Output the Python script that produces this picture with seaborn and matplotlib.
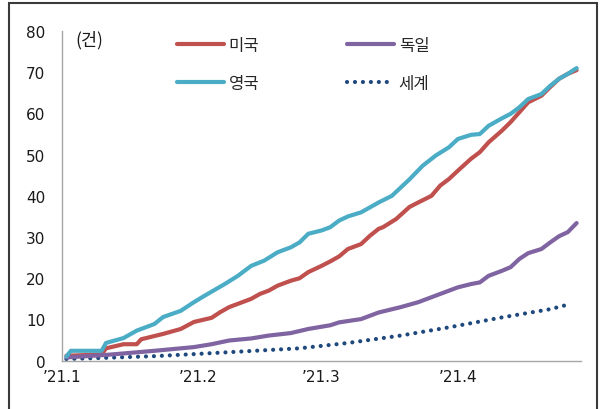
import matplotlib
matplotlib.use("Agg")
import matplotlib.pyplot as plt
from matplotlib.patches import Rectangle
import pandas as pd
import seaborn as sns

# ---- data ----
us_dates = ["2021-01-02", "2021-01-10", "2021-01-11", "2021-01-15", "2021-01-18", "2021-01-19",
            "2021-01-24", "2021-01-28", "2021-01-31", "2021-02-04", "2021-02-06", "2021-02-08",
            "2021-02-10", "2021-02-13", "2021-02-15", "2021-02-17", "2021-02-19", "2021-02-22",
            "2021-02-24", "2021-02-26", "2021-03-01", "2021-03-03", "2021-03-05", "2021-03-07",
            "2021-03-10", "2021-03-12", "2021-03-14", "2021-03-15", "2021-03-18", "2021-03-21",
            "2021-03-23", "2021-03-26", "2021-03-28", "2021-03-30", "2021-04-01", "2021-04-04",
            "2021-04-06", "2021-04-08", "2021-04-11", "2021-04-13", "2021-04-15", "2021-04-17",
            "2021-04-20", "2021-04-22", "2021-04-24", "2021-04-26", "2021-04-28"]
us_vals = [1.2, 1.5, 3.0, 4.0, 4.0, 5.2, 6.5, 7.7, 9.4, 10.4, 11.8, 13.0,
           13.8, 15.0, 16.2, 17.0, 18.2, 19.4, 20.0, 21.5, 23.0, 24.1, 25.3, 27.1,
           28.3, 30.3, 32.0, 32.4, 34.4, 37.3, 38.4, 40.0, 42.5, 44.1, 46.1, 49.0,
           50.6, 53.0, 55.8, 57.9, 60.3, 62.7, 64.3, 66.4, 68.4, 69.6, 70.5]

uk_dates = ["2021-01-02", "2021-01-03", "2021-01-10", "2021-01-11", "2021-01-15", "2021-01-18",
            "2021-01-22", "2021-01-24", "2021-01-28", "2021-01-31", "2021-02-02", "2021-02-07",
            "2021-02-10", "2021-02-13", "2021-02-16", "2021-02-19", "2021-02-22", "2021-02-24",
            "2021-02-26", "2021-03-01", "2021-03-03", "2021-03-05", "2021-03-07", "2021-03-10",
            "2021-03-14", "2021-03-17", "2021-03-21", "2021-03-24", "2021-03-27", "2021-03-30",
            "2021-04-01", "2021-04-04", "2021-04-06", "2021-04-08", "2021-04-11", "2021-04-13",
            "2021-04-15", "2021-04-17", "2021-04-20", "2021-04-22", "2021-04-24", "2021-04-26",
            "2021-04-28"]
uk_vals = [1.0, 2.4, 2.4, 4.3, 5.5, 7.3, 8.9, 10.6, 12.1, 14.2, 15.5, 18.6,
           20.6, 23.0, 24.3, 26.3, 27.5, 28.7, 30.8, 31.6, 32.4, 34.0, 35.0, 36.0,
           38.4, 40.0, 44.0, 47.3, 49.8, 51.8, 53.8, 54.8, 55.0, 57.0, 58.8, 59.9,
           61.5, 63.5, 64.7, 66.7, 68.4, 69.6, 71.0]

de_dates = ["2021-01-02", "2021-01-11", "2021-01-22", "2021-01-31", "2021-02-04", "2021-02-08",
            "2021-02-13", "2021-02-17", "2021-02-22", "2021-02-26", "2021-03-03", "2021-03-05",
            "2021-03-10", "2021-03-14", "2021-03-19", "2021-03-23", "2021-03-28", "2021-04-01",
            "2021-04-04", "2021-04-06", "2021-04-08", "2021-04-11", "2021-04-13", "2021-04-15",
            "2021-04-17", "2021-04-20", "2021-04-22", "2021-04-24", "2021-04-26", "2021-04-28"]
de_vals = [0.8, 1.4, 2.4, 3.3, 4.0, 4.9, 5.4, 6.1, 6.7, 7.7, 8.6, 9.3,
           10.1, 11.7, 13.0, 14.2, 16.2, 17.8, 18.6, 19.0, 20.6, 21.8, 22.7, 24.7,
           26.1, 27.1, 28.7, 30.2, 31.2, 33.4]

world_dates = ["2021-01-02", "2021-01-11", "2021-01-22", "2021-01-31", "2021-02-24", "2021-03-07",
               "2021-03-19", "2021-03-30", "2021-04-11", "2021-04-22", "2021-04-26"]
world_vals = [0.4, 0.7, 1.1, 1.6, 3.0, 4.3, 6.1, 8.1, 10.5, 12.5, 13.6]

series_names = ["미국", "독일", "영국", "세계"]
colors = ["#C0504D", "#8064A2", "#4BACC6", "#1F497D"]
x_ticks = ["2021-01-01", "2021-02-01", "2021-03-01", "2021-04-01"]
x_ticklabels = ["’21.1", "’21.2", "’21.3", "’21.4"]
y_ticks = [0, 10, 20, 30, 40, 50, 60, 70, 80]
unit_label = "(건)"

# ---- style ----
sns.set_theme(style="white")
plt.rcParams['font.family'] = ['Noto Sans CJK KR', 'DejaVu Sans']

fig = plt.figure(figsize=(6.02, 4.10), dpi=100)
ax = fig.add_axes([62 / 602, 1 - 361.7 / 410, (581 - 62) / 602, (361.7 - 32) / 410])

frames = [
    pd.DataFrame({"date": pd.to_datetime(us_dates), "v": us_vals}),
    pd.DataFrame({"date": pd.to_datetime(de_dates), "v": de_vals}),
    pd.DataFrame({"date": pd.to_datetime(uk_dates), "v": uk_vals}),
    pd.DataFrame({"date": pd.to_datetime(world_dates), "v": world_vals}),
]

for df, name, c in zip(frames, series_names, colors):
    if name == "세계":
        sns.lineplot(data=df, x="date", y="v", ax=ax, color=c, lw=3.0,
                     linestyle=(0, (0.01, 1.9)), dash_capstyle="round", label=name, zorder=2)
    else:
        sns.lineplot(data=df, x="date", y="v", ax=ax, color=c, lw=3.0,
                     solid_capstyle="round", solid_joinstyle="round", label=name,
                     zorder=4 if name == "영국" else 3)

ax.set_xlim(pd.Timestamp("2021-01-01"), pd.Timestamp("2021-04-29"))
ax.set_ylim(0, 80)
ax.set_xticks(pd.to_datetime(x_ticks))
ax.set_xticklabels(x_ticklabels)
ax.set_yticks(y_ticks)
ax.set_xlabel("")
ax.set_ylabel("")

for s in ["top", "right"]:
    ax.spines[s].set_visible(False)
for s in ["left", "bottom"]:
    ax.spines[s].set_color("#A6A6A6")
    ax.spines[s].set_linewidth(1.0)
ax.tick_params(axis="both", which="both", direction="out", length=4, width=1.0,
               color="#A6A6A6", labelsize=11, labelcolor="#1a1a1a")
ax.tick_params(axis="y", pad=8)
ax.tick_params(axis="x", pad=2)
for lab in ax.get_xticklabels() + ax.get_yticklabels():
    lab.set_fontfamily("DejaVu Sans")
ax.grid(False)

ax.text(0.025, 0.976, unit_label, transform=ax.transAxes, fontsize=12.5,
        ha="left", va="center", color="#1a1a1a")

# legend: rows 미국/독일 and 영국/세계
handles, labels = ax.get_legend_handles_labels()
hmap = dict(zip(labels, handles))
order = ["미국", "영국", "독일", "세계"]
ax.legend([hmap[k] for k in order], order, ncol=2, loc="upper left",
          bbox_to_anchor=(0.193, 1.028), frameon=False, fontsize=12,
          handlelength=2.8, handletextpad=0.3, columnspacing=5.25,
          labelspacing=1.27)

# outer frame of the figure
fig.patches.append(Rectangle((8.5 / 602, -0.05), (597 - 8.5) / 602, 1.05 - 3.5 / 410,
                             transform=fig.transFigure, fill=False,
                             edgecolor="#3a3a3a", linewidth=1.5, zorder=10))

fig.savefig("out.png", dpi=100)
